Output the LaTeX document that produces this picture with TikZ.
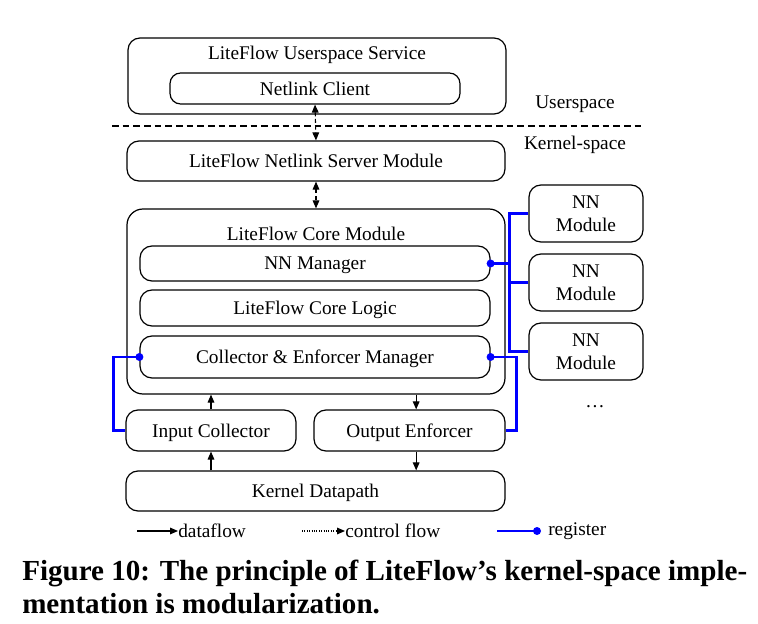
\documentclass[tikz,border=0pt]{standalone}
\usepackage{fontspec}
\setmainfont{Liberation Serif}
\usetikzlibrary{arrows.meta, positioning}

\begin{document}
\begin{tikzpicture}[
        x=0.75pt, y=-0.75pt,
        >={Triangle[length=6pt, width=5pt]},
        box/.style={draw, rounded corners=9pt, line width=0.9pt, inner sep=0pt, text depth=0pt},
        txt/.style={font=\fontsize{14.5}{17}\selectfont, inner sep=0pt},
        df/.style={->, line width=0.8pt},
        cf/.style={<->, densely dashed, line width=0.8pt},
        reg/.style={draw=blue, line width=1.8pt}
    ]
        \useasboundingbox (0,0) rectangle (758,624);

        % 用户态
        \node[box, minimum width=378*0.75pt, minimum height=76*0.75pt] (us) at (317,76) {};
        \node[txt] (ust) at (317,55) {LiteFlow Userspace Service};
        \node[box, rounded corners=8pt, minimum width=290*0.75pt, minimum height=31*0.75pt, txt] (nc) at (315,88.5) {Netlink Client};

        % 分界线
        \draw[dashed, dash pattern=on 5pt off 3pt, line width=0.8pt] (112,126) -- (645,126);
        \node[txt] (uspace) at (575,104) {Userspace};
        \node[txt] (kspace) at (575,145) {Kernel-space};

        % 内核态
        \node[box, minimum width=378*0.75pt, minimum height=40*0.75pt, txt] (srv) at (316,161) {LiteFlow Netlink Server Module};
        \node[box, rounded corners=12pt, minimum width=378*0.75pt, minimum height=185*0.75pt] (core) at (316,301.5) {};
        \node[txt] (coret) at (316,234) {LiteFlow Core Module};
        \node[box, minimum width=350*0.75pt, minimum height=35*0.75pt, txt] (nnm) at (315,263.5) {NN Manager};
        \node[box, minimum width=350*0.75pt, minimum height=36*0.75pt, txt] (logic) at (315,308) {LiteFlow Core Logic};
        \node[box, minimum width=350*0.75pt, minimum height=42*0.75pt, txt] (cem) at (315,357) {Collector \& Enforcer Manager};
        \node[box, minimum width=170*0.75pt, minimum height=41*0.75pt, txt] (ic) at (211,430.5) {Input Collector};
        \node[box, minimum width=191*0.75pt, minimum height=41*0.75pt, txt] (oe) at (409.5,430.5) {Output Enforcer};
        \node[box, minimum width=379*0.75pt, minimum height=40*0.75pt, txt] (kd) at (315.5,491) {Kernel Datapath};

        % NN 模块
        \foreach \i/\y in {1/213.5, 2/282.5, 3/351.5}
            \node[box, minimum width=114*0.75pt, minimum height=57*0.75pt, txt, align=center] (nn\i) at (586,\y) {NN\\Module};
        \node[txt] (dots) at (595,407) {\dots};

        % 控制流
        \draw[cf] (nc.south) -- (srv.north);
        \draw[cf] (srv.south) -- (core.north);

        % 数据流
        \draw[df] (kd.north -| ic.south) -- (ic.south);
        \draw[df] (ic.north) -- (ic.north |- core.south);
        \draw[df] ([xshift=5pt]oe.north |- core.south) -- ([xshift=5pt]oe.north);
        \draw[df] ([xshift=5pt]oe.south) -- ([xshift=5pt]oe.south |- kd.north);

        % 注册
        \draw[reg] (nn1.west) -- ++(-19,0) |- (nn3.west);
        \draw[reg] (nn2.west) -- ++(-19,0);
        \draw[reg] (nnm.east) -- ++(20,0);
        \draw[reg] (cem.east) -- ++(26,0) |- (oe.east);
        \draw[reg] (cem.west) -- ++(-26,0) |- (ic.west);
        \foreach \n in {nnm.east, cem.east, cem.west}
            \fill[blue] (\n) circle[radius=3pt];

        % 图例
        \coordinate (l1) at (137,531);
        \node[txt, anchor=west] (l1t) at (178,531) {dataflow};
        \draw[df] (l1) -- (l1t.west);
        \coordinate (l2) at (302,531);
        \node[txt, anchor=west] (l2t) at (345,531) {control flow};
        \draw[->, densely dotted, line width=0.8pt] (l2) -- (l2t.west);
        \coordinate (l3) at (497,531);
        \node[txt, anchor=west] (l3t) at (548,531) {register};
        \draw[reg] (l3) -- (537,531);
        \fill[blue] (537,531) circle[radius=3pt];

        % 图题
        \node[anchor=west, align=left, inner sep=0pt, font=\fontsize{21.8}{24.75}\selectfont\bfseries] (cap) at (22,587)
            {Figure 10: The principle of LiteFlow’s kernel-space imple-\\mentation is modularization.};
    \end{tikzpicture}
\end{document}
